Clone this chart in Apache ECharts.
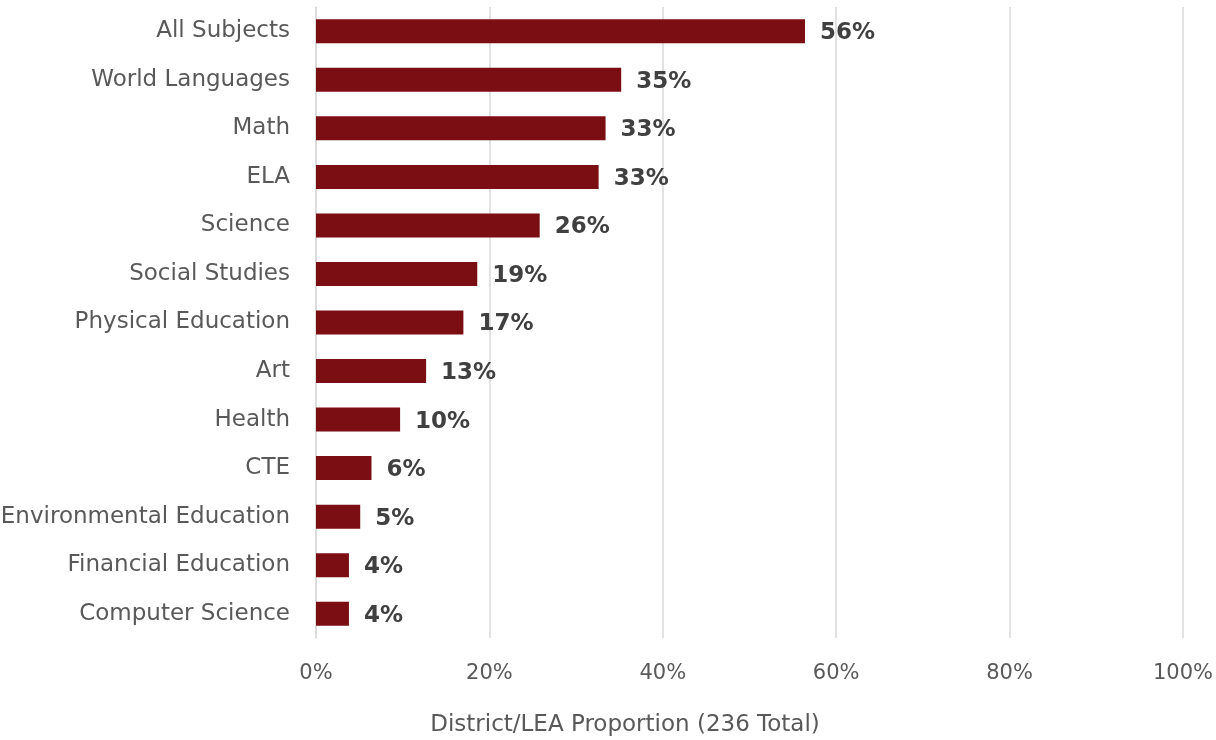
<!DOCTYPE html>
<html>
<head>
<meta charset="utf-8">
<script src="https://cdn.jsdelivr.net/npm/echarts@6/dist/echarts.min.js"></script>
<style>
  html, body { margin: 0; padding: 0; background: #ffffff; }
  #chart { width: 1216px; height: 740px; }
</style>
</head>
<body>
<div id="chart"></div>
<script>
// Subject areas, listed top to bottom
const subjects = [
  'All Subjects', 'World Languages', 'Math', 'ELA', 'Science',
  'Social Studies', 'Physical Education', 'Art', 'Health', 'CTE',
  'Environmental Education', 'Financial Education', 'Computer Science'
];
// Share of districts/LEAs (percent)
const shares = [56.4, 35.2, 33.4, 32.6, 25.8, 18.6, 17.0, 12.7, 9.7, 6.4, 5.1, 3.8, 3.8];
// X-axis ticks (percent)
const xTicks = [0, 20, 40, 60, 80, 100];
const xTitle = 'District/LEA Proportion (236 Total)';

const FONT = 'DejaVu Sans';
const chart = echarts.init(document.getElementById('chart'));

chart.setOption({
  animation: false,
  textStyle: { fontFamily: FONT },
  title: {
    text: xTitle,
    left: 620,
    top: 709,
    textAlign: 'center',
    textStyle: { color: '#595959', fontSize: 23, fontWeight: 'normal', fontFamily: FONT }
  },
  grid: {
    left: 316, right: 33, top: 7, bottom: 102,
    containLabel: false,
    outerBoundsMode: 'none'
  },
  xAxis: {
    type: 'value',
    min: xTicks[0],
    max: xTicks[xTicks.length - 1],
    interval: xTicks[1] - xTicks[0],
    axisLine: { show: false },
    axisTick: { show: false },
    splitLine: { show: true, lineStyle: { color: '#D9D9D9', width: 1.5 } },
    axisLabel: {
      formatter: v => v + '%',
      color: '#595959',
      fontSize: 21,
      fontFamily: FONT,
      margin: 25
    }
  },
  yAxis: {
    type: 'category',
    inverse: true,
    data: subjects,
    axisLine: { show: true, lineStyle: { color: '#D9D9D9', width: 1.5 } },
    axisTick: { show: false },
    axisLabel: {
      color: '#595959',
      fontSize: 23,
      fontFamily: FONT,
      margin: 26,
      padding: [4, 0, 0, 0]
    }
  },
  series: [{
    type: 'bar',
    data: shares,
    barWidth: 24,
    itemStyle: { color: '#7B0E13' },
    label: {
      show: true,
      position: 'right',
      distance: 15,
      offset: [0, 2],
      formatter: p => Math.round(p.value) + '%',
      color: '#404040',
      fontSize: 23,
      fontWeight: 'bold',
      fontFamily: FONT
    }
  }]
});
</script>
</body>
</html>
